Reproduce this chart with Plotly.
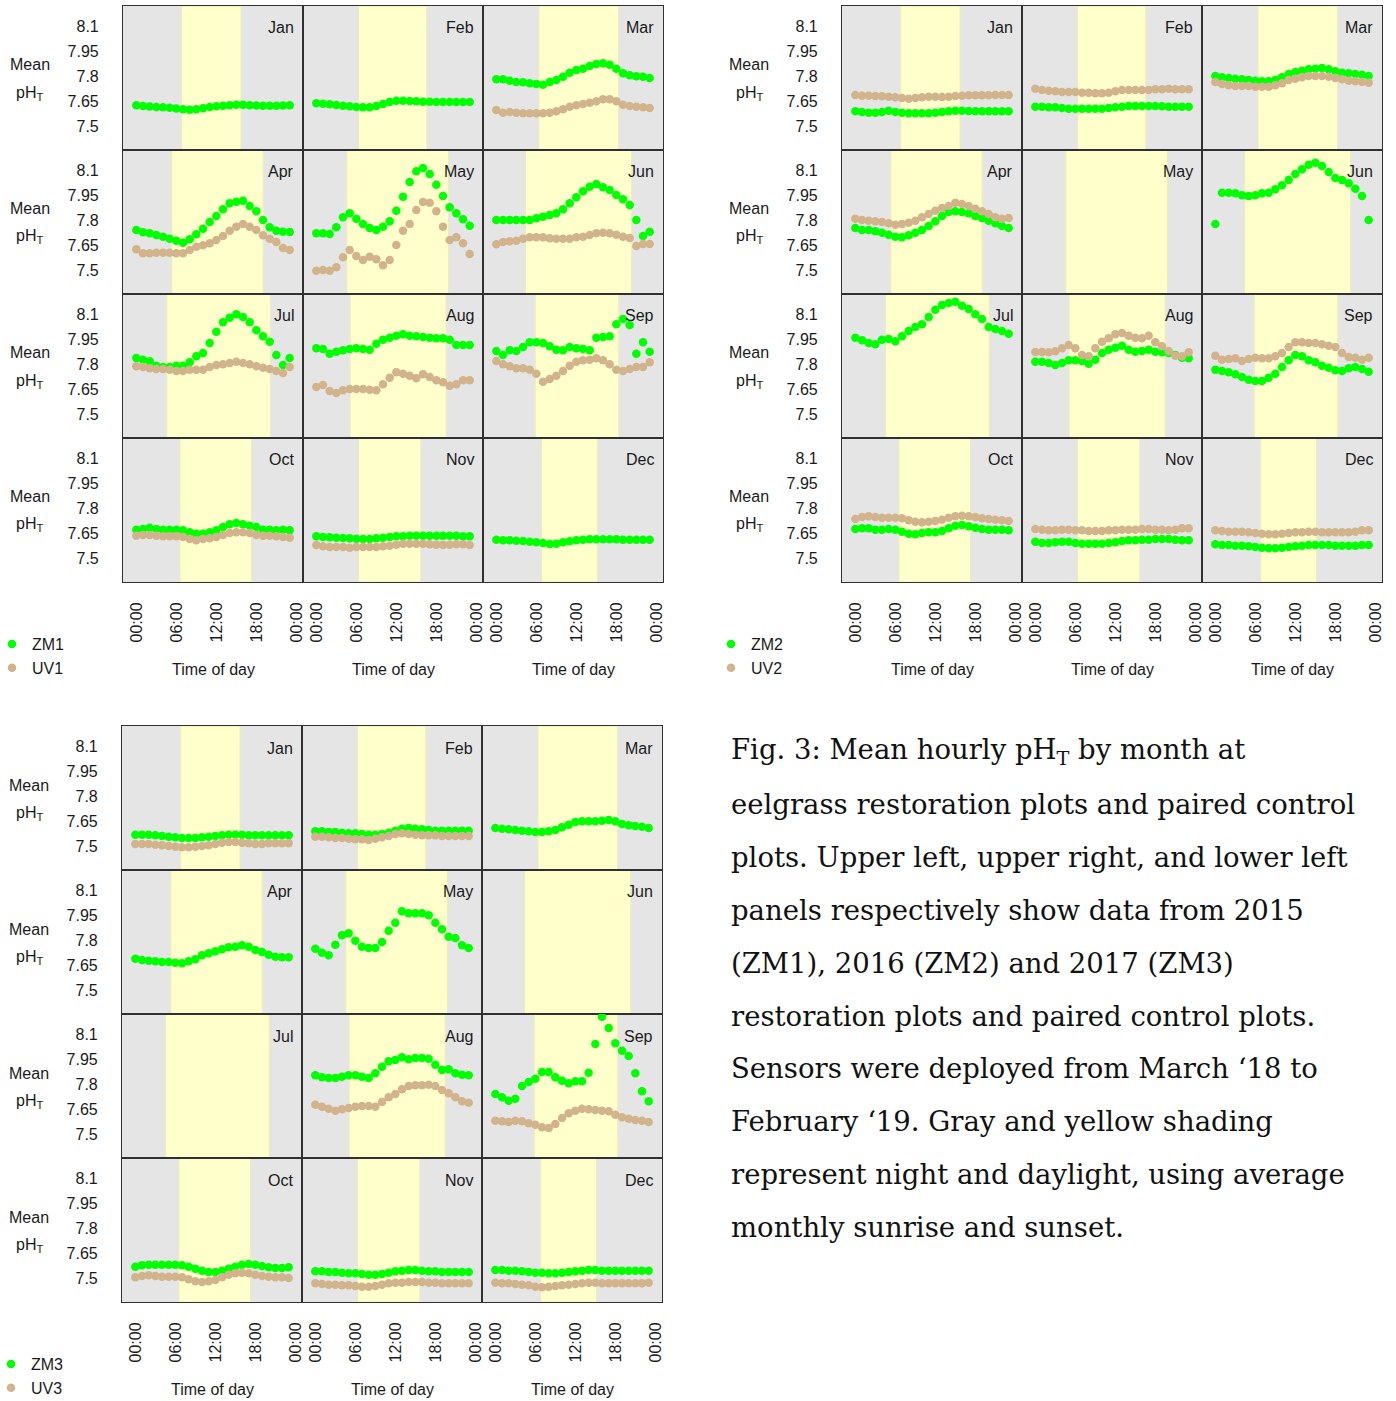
import plotly.graph_objects as go

W, H = 1396, 1401

MONTHS = ["Jan", "Feb", "Mar", "Apr", "May", "Jun", "Jul", "Aug", "Sep", "Oct", "Nov", "Dec"]
HOURS = list(range(24))
SUNRISE = [6.8, 6.35, 6.4, 5.33, 4.58, 4.38, 4.56, 5.07, 5.84, 6.55, 6.35, 6.8]
SUNSET = [15.7, 16.57, 18.3, 19.02, 19.83, 20.3, 20.1, 19.47, 18.37, 17.28, 15.67, 15.2]
Y_TICKS = [7.5, 7.65, 7.8, 7.95, 8.1]
Y_TICKTEXT = ["7.5", "7.65", "7.8", "7.95", "8.1"]
X_TICKS = [0, 6, 12, 18, 24]
X_TICKTEXT = ["00:00", "06:00", "12:00", "18:00", "00:00"]

zm1 = {
    "Jan": [7.624,7.620,7.617,7.614,7.612,7.609,7.605,7.601,7.597,7.601,7.607,7.614,7.619,7.622,7.625,7.627,7.627,7.625,7.623,7.622,7.622,7.622,7.623,7.624],
    "Feb": [7.636,7.634,7.630,7.626,7.622,7.618,7.614,7.612,7.612,7.620,7.632,7.644,7.652,7.652,7.650,7.648,7.646,7.646,7.644,7.644,7.644,7.644,7.644,7.644],
    "Mar": [7.780,7.780,7.772,7.764,7.762,7.756,7.752,7.748,7.764,7.776,7.796,7.820,7.836,7.844,7.860,7.872,7.876,7.868,7.844,7.816,7.804,7.798,7.796,7.788],
    "Apr": [7.740,7.726,7.720,7.710,7.700,7.688,7.676,7.664,7.684,7.714,7.748,7.788,7.824,7.864,7.900,7.910,7.916,7.884,7.852,7.800,7.756,7.736,7.730,7.728],
    "May": [7.720,7.720,7.716,7.756,7.816,7.840,7.808,7.776,7.752,7.740,7.760,7.792,7.856,7.940,8.028,8.092,8.112,8.076,8.012,7.944,7.876,7.840,7.804,7.766],
    "Jun": [7.800,7.800,7.800,7.800,7.800,7.800,7.810,7.820,7.830,7.840,7.864,7.900,7.936,7.972,8.000,8.016,7.996,7.980,7.950,7.924,7.890,7.800,7.704,7.730],
    "Jul": [7.836,7.826,7.816,7.790,7.782,7.782,7.790,7.790,7.810,7.846,7.866,7.926,7.994,8.050,8.078,8.098,8.082,8.050,8.002,7.966,7.934,7.854,7.794,7.836],
    "Aug": [7.894,7.890,7.862,7.874,7.882,7.890,7.894,7.890,7.886,7.922,7.946,7.958,7.970,7.978,7.970,7.966,7.962,7.958,7.954,7.954,7.946,7.914,7.914,7.914],
    "Sep": [7.878,7.854,7.882,7.878,7.902,7.930,7.930,7.926,7.906,7.886,7.882,7.902,7.894,7.890,7.882,7.958,7.962,7.966,8.038,8.070,8.034,7.862,7.930,7.874],
    "Oct": [7.670,7.674,7.682,7.674,7.670,7.670,7.670,7.666,7.654,7.646,7.646,7.654,7.666,7.686,7.702,7.710,7.702,7.694,7.686,7.670,7.670,7.666,7.670,7.666],
    "Nov": [7.630,7.626,7.624,7.622,7.620,7.618,7.616,7.614,7.614,7.618,7.622,7.626,7.630,7.630,7.634,7.634,7.634,7.634,7.634,7.634,7.634,7.634,7.630,7.630],
    "Dec": [7.610,7.606,7.606,7.604,7.602,7.598,7.594,7.590,7.584,7.586,7.594,7.600,7.606,7.610,7.612,7.612,7.612,7.612,7.612,7.610,7.610,7.610,7.610,7.610],
}
uv1 = {
    "Mar": [7.596,7.580,7.584,7.580,7.576,7.576,7.576,7.576,7.580,7.588,7.600,7.616,7.624,7.632,7.640,7.648,7.660,7.660,7.648,7.628,7.620,7.616,7.612,7.608],
    "Apr": [7.624,7.600,7.600,7.604,7.604,7.604,7.600,7.600,7.620,7.640,7.648,7.660,7.680,7.704,7.736,7.760,7.776,7.760,7.740,7.708,7.688,7.668,7.632,7.620],
    "May": [7.496,7.500,7.496,7.516,7.576,7.620,7.584,7.560,7.580,7.564,7.528,7.560,7.650,7.736,7.776,7.860,7.908,7.904,7.852,7.760,7.680,7.696,7.660,7.596],
    "Jun": [7.654,7.668,7.672,7.676,7.688,7.696,7.696,7.696,7.690,7.688,7.688,7.688,7.696,7.700,7.710,7.720,7.724,7.720,7.712,7.700,7.692,7.644,7.656,7.656],
    "Jul": [7.786,7.782,7.774,7.770,7.770,7.766,7.758,7.758,7.766,7.766,7.766,7.782,7.794,7.798,7.806,7.814,7.806,7.798,7.786,7.778,7.770,7.758,7.746,7.782],
    "Aug": [7.662,7.674,7.638,7.626,7.642,7.650,7.650,7.650,7.646,7.642,7.678,7.718,7.750,7.742,7.730,7.714,7.738,7.722,7.702,7.690,7.670,7.678,7.702,7.702],
    "Sep": [7.818,7.798,7.786,7.774,7.774,7.766,7.742,7.694,7.710,7.730,7.758,7.790,7.814,7.822,7.826,7.834,7.822,7.798,7.766,7.758,7.770,7.782,7.782,7.810],
    "Oct": [7.634,7.638,7.638,7.634,7.630,7.630,7.630,7.626,7.614,7.606,7.614,7.618,7.626,7.638,7.650,7.654,7.654,7.650,7.638,7.634,7.634,7.630,7.626,7.622],
    "Nov": [7.578,7.570,7.566,7.566,7.566,7.562,7.566,7.566,7.566,7.566,7.570,7.574,7.580,7.586,7.586,7.586,7.586,7.582,7.580,7.578,7.580,7.582,7.582,7.578],
}
zm2 = {
    "Jan": [7.588,7.584,7.580,7.580,7.584,7.592,7.584,7.580,7.576,7.576,7.576,7.576,7.580,7.584,7.588,7.592,7.592,7.590,7.588,7.588,7.588,7.588,7.588,7.588],
    "Feb": [7.616,7.616,7.612,7.612,7.608,7.604,7.604,7.604,7.604,7.604,7.604,7.608,7.612,7.616,7.620,7.620,7.620,7.620,7.620,7.618,7.616,7.616,7.616,7.616],
    "Mar": [7.800,7.792,7.788,7.784,7.780,7.776,7.772,7.768,7.768,7.776,7.792,7.812,7.824,7.832,7.840,7.844,7.848,7.840,7.828,7.820,7.816,7.812,7.808,7.800],
    "Apr": [7.752,7.740,7.740,7.732,7.724,7.712,7.700,7.696,7.708,7.724,7.740,7.764,7.792,7.824,7.848,7.852,7.848,7.840,7.824,7.812,7.796,7.780,7.764,7.752],
    "Jun": [7.776,7.964,7.964,7.960,7.948,7.944,7.948,7.960,7.964,7.984,8.008,8.040,8.076,8.104,8.132,8.144,8.124,8.088,8.052,8.040,8.020,7.988,7.944,7.800],
    "Jul": [7.958,7.942,7.926,7.918,7.946,7.950,7.936,7.966,7.998,8.022,8.038,8.082,8.126,8.154,8.166,8.174,8.150,8.130,8.098,8.070,8.022,8.010,7.998,7.982],
    "Aug": [7.814,7.814,7.806,7.794,7.806,7.822,7.822,7.818,7.802,7.826,7.866,7.886,7.898,7.910,7.886,7.874,7.878,7.886,7.874,7.870,7.866,7.854,7.838,7.834],
    "Sep": [7.766,7.758,7.750,7.738,7.722,7.706,7.698,7.698,7.718,7.742,7.782,7.822,7.854,7.846,7.822,7.810,7.790,7.778,7.762,7.758,7.774,7.782,7.770,7.754],
    "Oct": [7.674,7.678,7.678,7.670,7.670,7.674,7.670,7.658,7.646,7.642,7.650,7.654,7.654,7.662,7.678,7.694,7.698,7.690,7.682,7.674,7.670,7.670,7.670,7.666],
    "Nov": [7.598,7.590,7.590,7.594,7.598,7.598,7.590,7.586,7.586,7.586,7.586,7.590,7.594,7.602,7.606,7.606,7.610,7.610,7.614,7.614,7.614,7.610,7.606,7.606],
    "Dec": [7.582,7.578,7.578,7.574,7.574,7.570,7.566,7.562,7.558,7.558,7.562,7.566,7.570,7.574,7.578,7.578,7.578,7.578,7.574,7.574,7.574,7.574,7.578,7.578],
}
uv2 = {
    "Jan": [7.686,7.682,7.682,7.680,7.678,7.676,7.672,7.668,7.664,7.668,7.672,7.676,7.676,7.674,7.676,7.680,7.682,7.684,7.684,7.684,7.684,7.686,7.686,7.686],
    "Feb": [7.724,7.716,7.712,7.708,7.704,7.704,7.704,7.700,7.700,7.696,7.696,7.700,7.708,7.716,7.716,7.716,7.716,7.716,7.720,7.720,7.724,7.720,7.720,7.720],
    "Mar": [7.764,7.752,7.744,7.740,7.740,7.740,7.736,7.736,7.736,7.744,7.756,7.776,7.784,7.792,7.800,7.800,7.800,7.796,7.788,7.780,7.772,7.768,7.764,7.760],
    "Apr": [7.808,7.800,7.796,7.792,7.788,7.780,7.772,7.776,7.784,7.796,7.816,7.836,7.856,7.872,7.884,7.904,7.896,7.884,7.868,7.852,7.836,7.816,7.808,7.812],
    "Aug": [7.872,7.872,7.870,7.876,7.894,7.914,7.894,7.854,7.846,7.894,7.934,7.954,7.978,7.986,7.970,7.958,7.954,7.970,7.930,7.906,7.878,7.850,7.846,7.870],
    "Sep": [7.850,7.826,7.830,7.834,7.818,7.830,7.838,7.834,7.834,7.846,7.866,7.902,7.930,7.930,7.926,7.926,7.918,7.910,7.902,7.866,7.842,7.838,7.826,7.838],
    "Oct": [7.734,7.746,7.750,7.746,7.742,7.742,7.742,7.738,7.726,7.718,7.714,7.718,7.722,7.730,7.742,7.750,7.754,7.750,7.746,7.738,7.734,7.730,7.726,7.722],
    "Nov": [7.674,7.670,7.666,7.666,7.670,7.670,7.666,7.666,7.662,7.662,7.662,7.666,7.666,7.670,7.670,7.670,7.674,7.674,7.670,7.670,7.666,7.670,7.678,7.678],
    "Dec": [7.666,7.662,7.658,7.658,7.658,7.654,7.650,7.646,7.642,7.642,7.646,7.650,7.654,7.654,7.658,7.658,7.654,7.654,7.654,7.654,7.654,7.658,7.666,7.666],
}
zm3 = {
    "Jan": [7.568,7.568,7.568,7.564,7.560,7.556,7.552,7.548,7.548,7.548,7.552,7.556,7.560,7.564,7.568,7.568,7.568,7.564,7.564,7.564,7.564,7.564,7.564,7.564],
    "Feb": [7.588,7.588,7.584,7.584,7.580,7.576,7.576,7.572,7.568,7.568,7.572,7.580,7.592,7.604,7.608,7.604,7.600,7.596,7.592,7.592,7.592,7.592,7.592,7.592],
    "Mar": [7.608,7.604,7.600,7.596,7.592,7.588,7.584,7.584,7.588,7.596,7.612,7.628,7.644,7.648,7.648,7.648,7.652,7.656,7.648,7.632,7.624,7.620,7.616,7.608],
    "Apr": [7.688,7.680,7.676,7.672,7.668,7.668,7.664,7.660,7.672,7.684,7.708,7.720,7.732,7.744,7.756,7.760,7.768,7.760,7.740,7.728,7.712,7.700,7.696,7.696],
    "May": [7.748,7.724,7.708,7.772,7.828,7.840,7.796,7.760,7.752,7.752,7.788,7.856,7.904,7.972,7.960,7.960,7.960,7.948,7.904,7.864,7.820,7.812,7.768,7.752],
    "Aug": [7.852,7.840,7.836,7.836,7.844,7.852,7.852,7.844,7.836,7.864,7.904,7.936,7.944,7.960,7.948,7.956,7.956,7.952,7.916,7.884,7.888,7.864,7.856,7.852],
    "Sep": [7.740,7.720,7.700,7.712,7.788,7.812,7.832,7.872,7.872,7.840,7.820,7.804,7.816,7.816,7.868,8.040,8.204,8.136,8.044,8.000,7.968,7.864,7.756,7.696],
    "Oct": [7.568,7.576,7.580,7.580,7.580,7.580,7.580,7.576,7.568,7.556,7.544,7.536,7.536,7.544,7.556,7.568,7.580,7.584,7.580,7.572,7.564,7.560,7.560,7.564],
    "Nov": [7.540,7.540,7.536,7.536,7.532,7.528,7.528,7.524,7.520,7.520,7.524,7.532,7.540,7.544,7.548,7.548,7.544,7.540,7.540,7.536,7.536,7.536,7.536,7.536],
    "Dec": [7.548,7.548,7.544,7.544,7.540,7.536,7.532,7.532,7.528,7.528,7.532,7.536,7.540,7.544,7.548,7.548,7.544,7.544,7.544,7.544,7.544,7.544,7.544,7.544],
}
uv3 = {
    "Jan": [7.512,7.512,7.512,7.508,7.504,7.500,7.496,7.492,7.492,7.496,7.500,7.504,7.512,7.520,7.524,7.524,7.520,7.516,7.512,7.512,7.516,7.516,7.516,7.516],
    "Feb": [7.556,7.556,7.552,7.548,7.548,7.544,7.540,7.540,7.536,7.544,7.552,7.560,7.572,7.576,7.572,7.568,7.564,7.564,7.564,7.560,7.560,7.560,7.560,7.560],
    "Aug": [7.676,7.664,7.652,7.640,7.648,7.656,7.664,7.668,7.668,7.664,7.692,7.720,7.740,7.768,7.788,7.792,7.792,7.796,7.788,7.764,7.744,7.720,7.696,7.688],
    "Sep": [7.580,7.576,7.572,7.580,7.576,7.564,7.556,7.540,7.536,7.560,7.596,7.624,7.640,7.652,7.648,7.644,7.640,7.636,7.616,7.600,7.592,7.584,7.580,7.572],
    "Oct": [7.504,7.512,7.516,7.512,7.508,7.508,7.508,7.504,7.492,7.480,7.476,7.480,7.488,7.504,7.520,7.528,7.532,7.528,7.520,7.512,7.508,7.504,7.504,7.500],
    "Nov": [7.468,7.464,7.460,7.460,7.456,7.456,7.452,7.448,7.448,7.452,7.460,7.468,7.472,7.472,7.476,7.476,7.476,7.472,7.472,7.468,7.468,7.468,7.468,7.468],
    "Dec": [7.472,7.468,7.468,7.464,7.460,7.456,7.448,7.444,7.448,7.452,7.456,7.460,7.464,7.468,7.472,7.472,7.468,7.468,7.468,7.468,7.468,7.468,7.468,7.472],
}

CAPTION = [
    "Fig. 3: Mean hourly pH<sub>T</sub> by month at",
    "eelgrass restoration plots and paired control",
    "plots. Upper left, upper right, and lower left",
    "panels respectively show data from 2015",
    "(ZM1), 2016 (ZM2) and 2017 (ZM3)",
    "restoration plots and paired control plots.",
    "Sensors were deployed from March \u201818 to",
    "February \u201819. Gray and yellow shading",
    "represent night and daylight, using average",
    "monthly sunrise and sunset.",
]

GROUPS = [
    ("ZM1", zm1, "UV1", uv1, 123, 6, "legend"),
    ("ZM2", zm2, "UV2", uv2, 842, 6, "legend2"),
    ("ZM3", zm3, "UV3", uv3, 122, 726, "legend3"),
]

GREEN = "#00FF00"
TAN = "#D2B48C"
SANS = "Liberation Sans, Arial, sans-serif"
TXT = "#1a1a1a"
CW, RH = 180, 144
YR = [7.356, 8.22]


def fx(px):
    return px / W


def fy(py):
    return 1 - py / H


fig = go.Figure()
layout = {}
shapes = []
annotations = []

for g, (zname, zdata, uname, udata, ox, oy, leg) in enumerate(GROUPS):
    shown = {"z": False, "u": False}
    for m, mon in enumerate(MONTHS):
        r, c = divmod(m, 3)
        k = g * 12 + m + 1
        xs = "x" if k == 1 else f"x{k}"
        ys = "y" if k == 1 else f"y{k}"
        x0, x1 = ox + c * CW, ox + (c + 1) * CW
        y0, y1 = oy + r * RH, oy + (r + 1) * RH
        layout[f"xaxis{k}"] = dict(
            domain=[fx(x0), fx(x1)], range=[-2, 25], anchor=ys,
            showgrid=False, zeroline=False, showline=True, mirror=True,
            linecolor="#303030", linewidth=1.1, ticks="",
            tickvals=X_TICKS, ticktext=X_TICKTEXT, tickangle=-90,
            showticklabels=(r == 3), ticklabelstandoff=13,
            tickfont=dict(family=SANS, size=16, color=TXT), fixedrange=True,
        )
        layout[f"yaxis{k}"] = dict(
            domain=[fy(y1), fy(y0)], range=YR, anchor=xs,
            showgrid=False, zeroline=False, showline=True, mirror=True,
            linecolor="#303030", linewidth=1.1, ticks="",
            tickvals=Y_TICKS, ticktext=Y_TICKTEXT,
            showticklabels=(c == 0), ticklabelstandoff=20,
            tickfont=dict(family=SANS, size=16, color=TXT), fixedrange=True,
        )
        shapes.append(dict(
            type="rect", xref=xs, yref=f"{ys} domain",
            x0=SUNRISE[m], x1=SUNSET[m], y0=0, y1=1,
            fillcolor="#FFFFCC", line=dict(width=1, color="#EDEDB8"), layer="below",
        ))
        annotations.append(dict(
            text=mon, xref="paper", yref="paper", x=fx(x1 - 7), y=fy(y0 + 22),
            xanchor="right", yanchor="middle", showarrow=False,
            font=dict(family=SANS, size=16, color=TXT),
        ))
        if c == 0:
            annotations.append(dict(
                text="Mean", xref="paper", yref="paper", x=fx(ox - 93), y=fy(y0 + 59),
                xanchor="center", yanchor="middle", showarrow=False,
                font=dict(family=SANS, size=16, color=TXT),
            ))
            annotations.append(dict(
                text="pH<sub>T</sub>", xref="paper", yref="paper", x=fx(ox - 93), y=fy(y0 + 87),
                xanchor="center", yanchor="middle", showarrow=False,
                font=dict(family=SANS, size=16, color=TXT),
            ))
        if r == 3:
            annotations.append(dict(
                text="Time of day", xref="paper", yref="paper", x=fx((x0 + x1) / 2), y=fy(y1 + 87),
                xanchor="center", yanchor="middle", showarrow=False,
                font=dict(family=SANS, size=16, color=TXT),
            ))
        if mon in zdata:
            fig.add_trace(go.Scatter(
                x=HOURS, y=zdata[mon], xaxis=xs, yaxis=ys, mode="markers",
                marker=dict(color=GREEN, size=8.5), name=zname, legendgroup=zname,
                showlegend=not shown["z"], legend=leg, hoverinfo="skip",
            ))
            shown["z"] = True
        if mon in udata:
            fig.add_trace(go.Scatter(
                x=HOURS, y=udata[mon], xaxis=xs, yaxis=ys, mode="markers",
                marker=dict(color=TAN, size=8.5), name=uname, legendgroup=uname,
                showlegend=not shown["u"], legend=leg, hoverinfo="skip",
            ))
            shown["u"] = True

    layout[leg] = dict(
        xref="paper", yref="paper",
        x=fx(ox - 131), y=fy(oy + 576 + 45), xanchor="left", yanchor="top",
        bgcolor="rgba(0,0,0,0)", borderwidth=0, itemwidth=30,
        font=dict(family=SANS, size=16, color=TXT), tracegroupgap=0,
        traceorder="normal",
    )

for i, line in enumerate(CAPTION):
    annotations.append(dict(
        text=line, xref="paper", yref="paper", x=fx(729), y=fy(751 + i * 52.9),
        xanchor="left", yanchor="middle", showarrow=False,
        font=dict(family="DejaVu Serif, serif", size=27.5, color="#111111"),
    ))

fig.update_layout(
    width=W, height=H, autosize=False,
    margin=dict(l=0, r=0, t=0, b=0, autoexpand=False),
    paper_bgcolor="white", plot_bgcolor="#E5E5E5",
    showlegend=True, shapes=shapes, annotations=annotations,
    **layout,
)

fig.write_html(
    "out.html",
    config={"displayModeBar": False},
    post_script="document.body.style.margin='0';document.body.style.overflow='hidden';",
)
